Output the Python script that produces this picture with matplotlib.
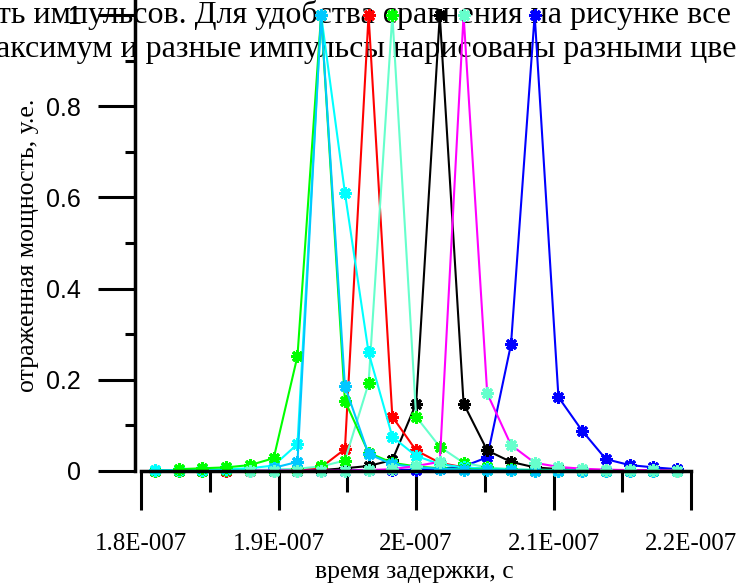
import numpy as np
import matplotlib
matplotlib.use("Agg")
import matplotlib.pyplot as plt
from matplotlib.ticker import FixedLocator

nan = np.nan

# delay time, units of 1e-7 s
t_e7 = [1.8102, 1.8275, 1.8447, 1.8620, 1.8793, 1.8965, 1.9138, 1.9310, 1.9483, 1.9655,
        1.9828, 2.0001, 2.0173, 2.0346, 2.0518, 2.0691, 2.0863, 2.1036, 2.1209, 2.1381,
        2.1554, 2.1726, 2.1899]

p_blue = [0.001, 0.001, 0.001, 0.001, 0.001, 0.001, 0.001, 0.001, 0.001, 0.002,
          0.002, 0.003, 0.005, 0.010, 0.030, 0.278, 1.000, 0.162, 0.088, 0.026,
          0.013, 0.008, 0.004]
p_black = [0.001, 0.001, 0.001, 0.001, 0.001, 0.001, 0.001, 0.002, 0.006, 0.011,
           0.024, 0.148, 1.000, 0.148, 0.045, 0.020, 0.008, 0.004, 0.002, 0.001,
           0.001, 0.001, 0.001]
p_red = [0.001, 0.001, 0.001, 0.001, 0.001, 0.002, 0.003, 0.008, 0.048, 1.000,
         0.119, 0.045, 0.018, 0.008, 0.004, 0.002, 0.001, 0.001, 0.001, 0.001,
         0.001, 0.001, 0.001]
p_aqua = [0.001, 0.001, 0.001, 0.002, 0.002, 0.003, 0.005, 0.010, 0.023, 0.192,
          1.000, 0.119, 0.053, 0.018, 0.008, 0.004, 0.003, 0.002, 0.001, 0.001,
          0.001, 0.001, 0.001]
p_cyan = [0.002, 0.002, 0.003, 0.004, 0.006, 0.012, 0.059, 1.000, 0.610, 0.260,
          0.075, 0.033, 0.015, 0.008, 0.005, 0.003, 0.002, 0.002, 0.001, 0.001,
          0.001, 0.001, 0.001]
p_lime = [nan, 0.004, 0.006, 0.008, 0.013, 0.028, 0.252, 1.000, 0.154, 0.040,
          0.018, 0.010, 0.006, 0.004, 0.003, 0.002, 0.002, 0.001, 0.001, 0.001,
          0.001, 0.001, 0.001]
p_sky = [nan, nan, nan, nan, nan, 0.007, 0.020, 1.000, 0.186, 0.037,
         0.015, 0.008, 0.005, 0.003, 0.002, 0.002, 0.001, 0.001, 0.001, 0.001,
         0.001, 0.001, 0.001]
p_magenta = [nan, nan, nan, nan, 0.001, 0.001, 0.001, 0.001, 0.001, 0.002,
             0.004, 0.011, 0.020, 1.000, 0.170, 0.057, 0.018, 0.009, 0.005, 0.003,
             0.002, 0.002, 0.001]

series = [
    (p_blue, '#0000FF', '#0000FF'),
    (p_black, '#000000', '#000000'),
    (p_red, '#FF0000', '#FF0000'),
    (p_aqua, '#66FFCC', '#00FF00'),
    (p_cyan, '#00FFFF', '#00FFFF'),
    (p_lime, '#00FF00', '#00FF00'),
    (p_sky, '#00C8FF', '#00C8FF'),
    (p_magenta, '#FF00FF', '#66FFCC'),
]

xticks = [1.8e-7, 1.9e-7, 2.0e-7, 2.1e-7, 2.2e-7]
xticklabels = ['1.8E-007', '1.9E-007', '2E-007', '2.1E-007', '2.2E-007']
xminor = [1.85e-7, 1.95e-7, 2.05e-7, 2.15e-7]
yticks = [0, 0.2, 0.4, 0.6, 0.8, 1.0]
yticklabels = ['0', '0.2', '0.4', '0.6', '0.8', '1']
yminor = [0.1, 0.3, 0.5, 0.7, 0.9]

W, H = 740, 583
fig = plt.figure(figsize=(W / 100, H / 100), dpi=100)

# axes geometry in pixels
ax_left_px, ax_right_px, ax_bottom_px, ax_top_px = 135, 700, 471, 0
ax = fig.add_axes([ax_left_px / W, (H - ax_bottom_px) / H,
                   (ax_right_px - ax_left_px) / W, (ax_bottom_px - ax_top_px) / H])
ax.patch.set_visible(False)

px_per_unit = 137.5 / 1e-8
x_lo = 1.8e-7 - (141 - ax_left_px) / px_per_unit
x_hi = 1.8e-7 + (ax_right_px - 141) / px_per_unit
ax.set_xlim(x_lo, x_hi)
ax.set_ylim(0, 471 / 456)

t = np.array(t_e7) * 1e-7
for vals, lc, mc in series:
    ax.plot(t, vals, color=lc, lw=1.5, marker=(8, 2, 0), ms=9, mew=2.2,
            mec=mc, mfc=mc, clip_on=False)

for s in ['top', 'right']:
    ax.spines[s].set_visible(False)
ax.spines['left'].set_linewidth(2.5)
ax.spines['bottom'].set_linewidth(2.5)
ax.spines['bottom'].set_bounds(1.8e-7, 2.2e-7)

ax.set_xticks(xticks)
ax.set_xticklabels(xticklabels, family='Liberation Serif', fontsize=18)
ax.xaxis.set_minor_locator(FixedLocator(xminor))
ax.tick_params(axis='x', which='major', direction='out', length=28, width=2.2, pad=17)
ax.tick_params(axis='x', which='minor', direction='out', length=15, width=2.2)

ax.set_yticks(yticks)
ax.set_yticklabels(yticklabels, family='Liberation Sans', fontsize=18)
ax.yaxis.set_minor_locator(FixedLocator(yminor))
ax.tick_params(axis='y', which='major', direction='out', length=27, width=2.2, pad=12)
ax.tick_params(axis='y', which='minor', direction='out', length=7, width=2.2)

fig.text(414 / W, 1 - 572 / H, 'время задержки, с', family='Liberation Serif',
         fontsize=18.5, ha='center', va='center')
fig.text(28 / W, 1 - 245 / H, 'отраженная мощность, у.е.', family='Liberation Serif',
         fontsize=18.5, ha='center', va='center', rotation=90)

# overlapping document text behind the chart
fig.text(-3 / W, 1 - 23 / H, 'ть импульсов. Для удобства сравнения на рисунке все',
         family='Liberation Serif', fontsize=23, ha='left', va='baseline', zorder=-1)
fig.text(-4 / W, 1 - 57 / H, 'аксимум и разные импульсы нарисованы разными цве',
         family='Liberation Serif', fontsize=23, ha='left', va='baseline', zorder=-1)

fig.savefig('out.png', dpi=100)
